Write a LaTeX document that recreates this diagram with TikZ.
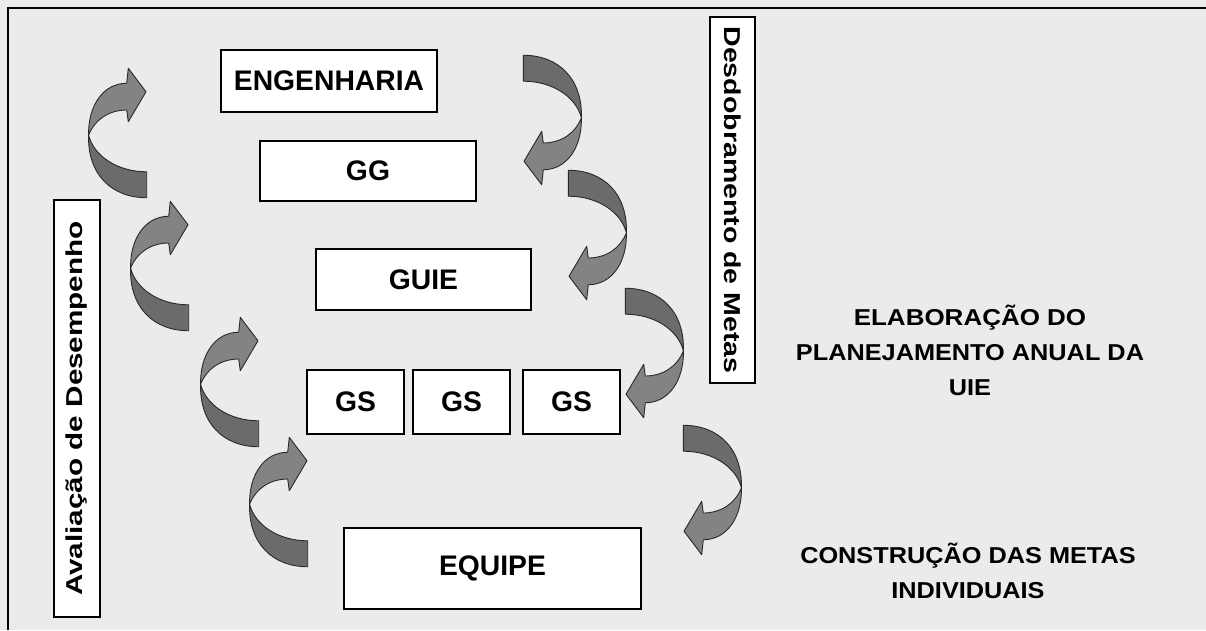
\documentclass[tikz,border=0pt]{standalone}
\usepackage{fontspec}
\setmainfont{Liberation Sans}
\definecolor{bgcol}{HTML}{EBEBEB}
\definecolor{bandlight}{HTML}{838383}
\definecolor{banddark}{HTML}{6B6B6B}
\definecolor{bandline}{HTML}{2A2A2A}
\tikzset{
  box/.style={draw=black, fill=white, line width=1.1pt, inner sep=0pt, font=\fontsize{28.3}{30}\selectfont\bfseries},
  vbox/.style={draw=black, fill=white, line width=1.1pt, inner sep=0pt, font=\fontsize{23}{26}\selectfont\bfseries},
  sidetext/.style={align=center, font=\fontsize{23}{35}\selectfont\bfseries},
  tailband/.style={fill=banddark, draw=bandline, line width=0.9pt, line join=round},
  headband/.style={fill=bandlight, draw=bandline, line width=0.9pt, line join=round}
}
\newcommand{\curvarr}{%
  \filldraw[tailband] (0.01,0.52) .. controls (-0.01,0.82) and (0.40,0.998) .. (0.995,0.998)
     -- (0.995,0.80) .. controls (0.50,0.80) and (0.10,0.68) .. (0.01,0.52) -- cycle;
  \filldraw[headband] (0.01,0.52) .. controls (0.00,0.30) and (0.25,0.124) .. (0.656,0.124)
     -- (0.683,0.01) -- (0.983,0.189) -- (0.683,0.418) -- (0.656,0.328)
     .. controls (0.35,0.33) and (0.12,0.40) .. (0.01,0.52) -- cycle;
}
\begin{document}
\begin{tikzpicture}[x=1pt,y=-1pt]
\useasboundingbox (0,0) rectangle (1206,630);
\fill[bgcol] (0,0) rectangle (1206,630);
\draw[line width=2.6pt] (8,630) -- (8,8) -- (1206,8);

% left arrows (head up-right)
\begin{scope}[shift={(88,67)}, xscale=59, yscale=131]\curvarr\end{scope}
\begin{scope}[shift={(130,200)}, xscale=59, yscale=131]\curvarr\end{scope}
\begin{scope}[shift={(200,316)}, xscale=59, yscale=131]\curvarr\end{scope}
\begin{scope}[shift={(249,436)}, xscale=59, yscale=131]\curvarr\end{scope}
% right arrows (head down-left)
\begin{scope}[shift={(582,186)}, xscale=-59, yscale=-131]\curvarr\end{scope}
\begin{scope}[shift={(627,301)}, xscale=-59, yscale=-131]\curvarr\end{scope}
\begin{scope}[shift={(684,419)}, xscale=-59, yscale=-131]\curvarr\end{scope}
\begin{scope}[shift={(742,556)}, xscale=-59, yscale=-131]\curvarr\end{scope}

\node[box, minimum width=216pt, minimum height=62pt] (eng) at (329,81) {ENGENHARIA};
\node[box, minimum width=216pt, minimum height=60pt] (gg) at (368,171) {GG};
\node[box, minimum width=215pt, minimum height=61pt] (guie) at (423.5,279.5) {GUIE};
\node[box, minimum width=97pt, minimum height=64pt] (gs1) at (355.5,402) {GS};
\node[box, minimum width=97pt, minimum height=64pt] (gs2) at (461.5,402) {GS};
\node[box, minimum width=97pt, minimum height=64pt] (gs3) at (571.5,402) {GS};
\node[box, minimum width=297pt, minimum height=81pt] (equipe) at (492.5,568.5) {EQUIPE};

\node[vbox, rotate=90, minimum width=417pt, minimum height=46pt] (aval) at (77,408.5) {\scalebox{1.29}[1]{Avaliação de Desempenho}};
\node[vbox, rotate=-90, minimum width=366pt, minimum height=45pt] (desd) at (732.5,200) {\scalebox{1.24}[1]{Desdobramento de Metas}};

\node[sidetext] (elab) at (970,350) {\scalebox{1.13}[1]{ELABORAÇÃO DO}\\\scalebox{1.1}[1]{PLANEJAMENTO ANUAL DA}\\\scalebox{1.1}[1]{UIE}};
\node[sidetext] (constr) at (968,571) {\scalebox{1.1}[1]{CONSTRUÇÃO DAS METAS}\\\scalebox{1.1}[1]{INDIVIDUAIS}};
\end{tikzpicture}
\end{document}
